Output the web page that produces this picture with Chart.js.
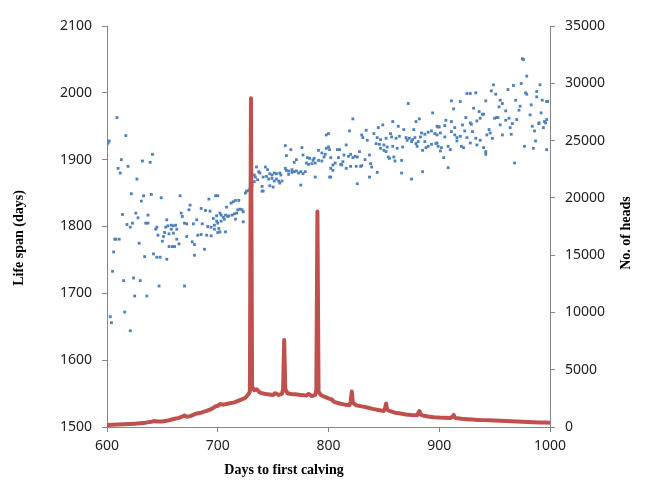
<!DOCTYPE html>
<html>
<head>
<meta charset="utf-8">
<script src="https://cdn.jsdelivr.net/npm/chart.js@4/dist/chart.umd.min.js"></script>
<style>
  html, body { margin: 0; padding: 0; background: #fff; }
  #wrap { width: 647px; height: 490px; }
</style>
</head>
<body>
<div id="wrap"><canvas id="chart"></canvas></div>
<script>
// Life span (left axis) scatter: day to first calving -> mean life span
const lifeDays = [
  600, 601, 602, 603, 604, 605, 606, 607, 608, 609, 610, 611, 612, 613, 614, 615, 616, 617, 618, 619,
  621, 621, 622, 623, 624, 625, 626, 627, 628, 629, 630, 631, 632, 633, 634, 635, 636, 637, 637, 639,
  640, 641, 642, 644, 645, 645, 646, 647, 648, 649, 650, 651, 652, 653, 654, 654, 655, 656, 656, 658,
  658, 659, 660, 660, 661, 662, 663, 663, 665, 666, 667, 668, 670, 670, 672, 672, 674, 675, 677, 678,
  679, 679, 681, 682, 685, 685, 686, 688, 689, 690, 691, 692, 693, 694, 694, 696, 697, 697, 698, 699,
  699, 700, 700, 700, 701, 702, 702, 703, 703, 705, 706, 707, 707, 708, 709, 710, 712, 713, 714, 715,
  716, 716, 717, 718, 719, 720, 722, 723, 723, 725, 726, 728, 729, 730, 730, 731, 733, 733, 734, 735,
  736, 737, 738, 740, 740, 741, 741, 743, 744, 745, 746, 747, 747, 749, 749, 750, 751, 751, 753, 753,
  755, 756, 756, 757, 758, 761, 761, 762, 762, 764, 764, 766, 767, 767, 769, 769, 771, 771, 773, 775,
  775, 776, 777, 777, 779, 780, 781, 782, 783, 785, 786, 787, 788, 788, 791, 791, 794, 794, 796, 797,
  798, 798, 800, 800, 801, 801, 802, 802, 802, 804, 804, 806, 808, 809, 810, 811, 812, 813, 814, 816,
  816, 818, 819, 820, 820, 822, 822, 824, 825, 826, 826, 828, 829, 830, 830, 831, 833, 834, 835, 837,
  837, 838, 839, 841, 843, 844, 844, 845, 846, 847, 847, 849, 850, 850, 852, 852, 853, 854, 855, 856,
  857, 858, 858, 859, 860, 861, 862, 863, 864, 866, 866, 867, 868, 870, 871, 872, 873, 875, 875, 876,
  877, 878, 879, 879, 880, 881, 882, 883, 884, 885, 885, 887, 887, 888, 890, 890, 893, 893, 894, 896,
  897, 898, 898, 898, 899, 899, 900, 901, 901, 902, 904, 905, 905, 906, 908, 908, 910, 911, 911, 911,
  913, 914, 914, 916, 916, 919, 919, 920, 921, 922, 923, 924, 925, 925, 928, 928, 928, 929, 930, 931,
  933, 933, 934, 934, 936, 937, 937, 939, 940, 940, 942, 942, 942, 943, 945, 946, 947, 948, 949, 950,
  951, 952, 953, 954, 955, 955, 957, 957, 960, 960, 962, 963, 964, 965, 966, 967, 968, 969, 970, 972,
  973, 974, 975, 976, 977, 978, 979, 979, 982, 983, 984, 985, 986, 987, 988, 988, 990, 990, 991, 992,
  993, 994, 995, 996, 997, 997, 997, 998
]
const lifeSpan = [
  1923, 1925, 1928, 1665, 1656, 1733, 1762, 1781, 1781, 1963, 1887, 1781, 1880, 1900, 1818, 1719, 1672, 1936, 1803, 1890,
  1799, 1644, 1849, 1805, 1723, 1696, 1820, 1871, 1813, 1775, 1719, 1838, 1898, 1846, 1755, 1805, 1696, 1805, 1817, 1896,
  1848, 1908, 1759, 1796, 1799, 1754, 1787, 1711, 1754, 1843, 1778, 1785, 1791, 1799, 1810, 1751, 1801, 1789, 1770, 1802,
  1796, 1770, 1801, 1790, 1770, 1802, 1796, 1781, 1774, 1846, 1820, 1815, 1805, 1711, 1804, 1785, 1825, 1832, 1777, 1804,
  1773, 1757, 1810, 1787, 1827, 1788, 1804, 1766, 1824, 1787, 1800, 1841, 1823, 1786, 1799, 1812, 1796, 1802, 1846, 1816,
  1808, 1846, 1805, 1791, 1797, 1820, 1792, 1817, 1808, 1814, 1811, 1817, 1792, 1829, 1815, 1816, 1835, 1817, 1837, 1819,
  1839, 1811, 1820, 1825, 1839, 1826, 1825, 1822, 1807, 1850, 1853, 1854, 1856, 1858, 1937, 1862, 1867, 1877, 1874, 1889,
  1870, 1882, 1880, 1860, 1853, 1874, 1853, 1889, 1875, 1885, 1871, 1879, 1861, 1877, 1872, 1859, 1880, 1868, 1879, 1871,
  1868, 1880, 1865, 1877, 1868, 1921, 1887, 1906, 1884, 1883, 1878, 1915, 1885, 1881, 1896, 1882, 1900, 1883, 1880, 1882,
  1862, 1918, 1907, 1879, 1882, 1895, 1903, 1893, 1902, 1894, 1899, 1902, 1895, 1874, 1914, 1899, 1910, 1898, 1904, 1908,
  1937, 1917, 1939, 1919, 1874, 1915, 1903, 1887, 1874, 1892, 1884, 1895, 1915, 1903, 1915, 1893, 1892, 1897, 1907, 1922,
  1887, 1905, 1943, 1908, 1890, 1961, 1903, 1905, 1890, 1904, 1864, 1912, 1890, 1937, 1891, 1933, 1900, 1944, 1929, 1907,
  1874, 1894, 1889, 1939, 1924, 1933, 1881, 1948, 1923, 1930, 1917, 1952, 1922, 1914, 1932, 1912, 1919, 1904, 1902, 1939,
  1934, 1957, 1920, 1904, 1898, 1932, 1917, 1950, 1935, 1899, 1880, 1919, 1945, 1933, 1929, 1984, 1932, 1927, 1871, 1930,
  1945, 1933, 1957, 1924, 1920, 1927, 1961, 1934, 1940, 1914, 1882, 1938, 1927, 1918, 1941, 1920, 1943, 1923, 1970, 1939,
  1924, 1937, 1950, 1925, 1949, 1920, 1949, 1940, 1913, 1918, 1903, 1951, 1934, 1959, 1920, 1888, 1915, 1988, 1957, 1942,
  1976, 1948, 1937, 1933, 1928, 1987, 1935, 1920, 1952, 1918, 1943, 1963, 1999, 1933, 1999, 1955, 1925, 1953, 1942, 1977,
  2000, 1932, 1958, 1922, 1972, 1962, 1929, 1968, 1968, 1918, 1988, 1912, 1908, 1937, 1945, 1940, 2003, 1932, 2012, 1962,
  1998, 1963, 1963, 1979, 1989, 1952, 1984, 1937, 1973, 1959, 2005, 1962, 1948, 1938, 1954, 2011, 1895, 1989, 1960, 1974,
  1980, 2014, 2051, 2050, 1920, 2000, 2025, 1998, 1967, 1982, 1950, 1917, 1943, 1928, 2002, 1994, 1955, 1954, 2012, 1970,
  1989, 1948, 1957, 1955, 1987, 1960, 1915, 1987
]

// No. of heads (right axis) line
const headDays = [
  600, 605, 610, 615, 620, 625, 630, 635, 640, 643, 645, 650, 655, 660, 665, 670, 672, 675, 680, 685,
  690, 695, 698, 700, 702, 705, 710, 715, 720, 725, 728, 729, 730, 731, 733, 735, 738, 740, 745, 750,
  752, 755, 758, 759, 760, 761, 763, 765, 768, 770, 775, 780, 782, 785, 788, 789, 790, 791, 793, 795,
  800, 803, 805, 810, 815, 819, 820, 821, 822, 825, 830, 835, 840, 845, 850, 851, 852, 853, 855, 860,
  865, 870, 875, 880, 881, 882, 883, 885, 890, 895, 900, 905, 910, 912, 913, 914, 915, 920, 925, 930,
  935, 940, 945, 950, 955, 960, 965, 970, 975, 980, 985, 990, 995, 1000
]
const heads = [
  180, 200, 210, 230, 260, 290, 330, 380, 460, 520, 480, 480, 560, 700, 800, 1000, 900, 950, 1150, 1250,
  1400, 1600, 1800, 1850, 2000, 1950, 2050, 2150, 2350, 2550, 2900, 3100, 28700, 3500, 3200, 3300, 3000, 2950, 2850, 2800,
  2950, 2800, 2900, 3300, 7600, 3300, 2950, 2900, 2850, 2850, 2800, 2750, 2900, 2700, 2800, 3200, 18800, 3100, 2800, 2700,
  2500, 2400, 2200, 2050, 1950, 1900, 2200, 3100, 2100, 1900, 1800, 1700, 1580, 1480, 1400, 1600, 2050, 1500, 1400, 1250,
  1170, 1100, 1050, 1020, 1200, 1400, 1100, 1000, 920, 860, 820, 800, 780, 900, 1050, 850, 780, 720, 680, 650,
  620, 600, 580, 560, 540, 520, 500, 480, 460, 440, 420, 400, 390, 380
]

const xTitle = 'Days to first calving'
const yLeftTitle = 'Life span (days)'
const yRightTitle = 'No. of heads'

const axisGray = '#868686'
const tickFont = { family: "'Noto Sans', sans-serif", size: 14 }
const plainNumber = (value) => String(value)

// axis titles drawn by hand so the right one reads bottom-to-top like the left one
const axisTitles = {
  id: 'axisTitles',
  afterDraw(chart) {
    const ctx = chart.ctx
    ctx.save()
    ctx.font = "bold 14px 'Liberation Serif', serif"
    ctx.fillStyle = '#000'
    ctx.textAlign = 'center'
    ctx.textBaseline = 'middle'
    ctx.fillText(xTitle, 284, 470)

    ctx.save()
    ctx.translate(19, 238)
    ctx.rotate(-Math.PI / 2)
    ctx.fillText(yLeftTitle, 0, 0)
    ctx.restore()

    ctx.translate(626, 233)
    ctx.rotate(-Math.PI / 2)
    ctx.fillText(yRightTitle, 0, 0)
    ctx.restore()
  }
}

new Chart(document.getElementById('chart'), {
  data: {
    datasets: [
      {
        type: 'line',
        label: yRightTitle,
        data: headDays.map((d, i) => ({ x: d, y: heads[i] })),
        yAxisID: 'y1',
        borderColor: '#C0504D',
        borderWidth: 4,
        borderJoinStyle: 'round',
        borderCapStyle: 'round',
        pointRadius: 0,
        tension: 0,
        order: 1
      },
      {
        type: 'scatter',
        label: yLeftTitle,
        data: lifeDays.map((d, i) => ({ x: d, y: lifeSpan[i] })),
        yAxisID: 'y',
        backgroundColor: '#4F81BD',
        borderColor: '#4F81BD',
        borderWidth: 0,
        pointStyle: 'rect',
        pointRadius: 2,
        order: 2
      }
    ]
  },
  options: {
    responsive: true,
    maintainAspectRatio: false,
    animation: false,
    layout: { padding: { top: 26, left: 0, right: 0, bottom: 0 } },
    plugins: {
      legend: { display: false },
      tooltip: { enabled: false }
    },
    scales: {
      x: {
        type: 'linear',
        min: 600,
        max: 1000,
        afterFit: (scale) => { scale.height = 63 },
        border: { color: axisGray, width: 1 },
        grid: { drawOnChartArea: false, drawTicks: true, tickLength: 5, color: axisGray },
        ticks: { stepSize: 100, color: '#222', font: tickFont, padding: 6, callback: plainNumber }
      },
      y: {
        position: 'left',
        min: 1500,
        max: 2100,
        afterFit: (scale) => { scale.width = 107 },
        border: { color: axisGray, width: 1 },
        grid: { drawOnChartArea: false, drawTicks: true, tickLength: 5, color: axisGray },
        ticks: { stepSize: 100, color: '#222', font: tickFont, padding: 10, callback: plainNumber }
      },
      y1: {
        position: 'right',
        min: 0,
        max: 35000,
        afterFit: (scale) => { scale.width = 97 },
        border: { color: axisGray, width: 1 },
        grid: { drawOnChartArea: false, drawTicks: true, tickLength: 5, color: axisGray },
        ticks: { stepSize: 5000, color: '#222', font: tickFont, padding: 10, callback: plainNumber }
      }
    }
  },
  plugins: [axisTitles]
})
</script>
</body>
</html>
